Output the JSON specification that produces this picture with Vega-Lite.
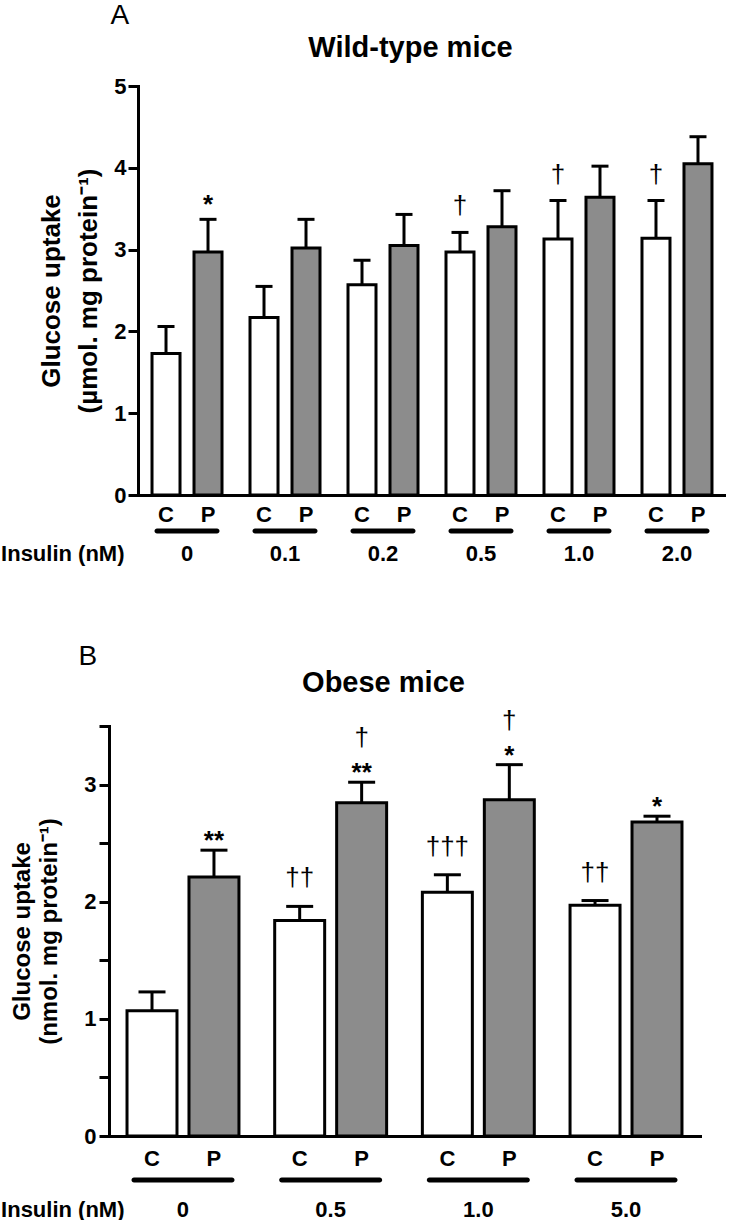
{
  "$schema": "https://vega.github.io/schema/vega-lite/v6.json",
  "padding": {"top": 2, "left": 0, "right": 0, "bottom": 0},
  "background": "white",
  "spacing": 78,
  "config": {
    "view": {"stroke": null},
    "font": "Liberation Sans",
    "axis": {"domainColor": "black", "domainWidth": 3, "domainCap": "square", "tickColor": "black", "tickWidth": 3, "labelColor": "black", "titleColor": "black", "grid": false, "labelFont": "Liberation Sans", "labelFontWeight": "bold", "labelFontSize": 22, "titleFont": "Liberation Sans", "titleFontWeight": "bold"},
    "title": {"color": "black", "font": "Liberation Sans"}
  },
  "resolve": {"scale": {"x": "independent", "y": "independent", "xOffset": "independent"}},
  "datasets": {
    "wild": [
      {"dose": "0", "trt": "C", "mean": 1.73, "upper": 2.06, "star": "", "dagger": ""},
      {"dose": "0", "trt": "P", "mean": 2.97, "upper": 3.37, "star": "*", "dagger": ""},
      {"dose": "0.1", "trt": "C", "mean": 2.17, "upper": 2.55, "star": "", "dagger": ""},
      {"dose": "0.1", "trt": "P", "mean": 3.02, "upper": 3.37, "star": "", "dagger": ""},
      {"dose": "0.2", "trt": "C", "mean": 2.57, "upper": 2.87, "star": "", "dagger": ""},
      {"dose": "0.2", "trt": "P", "mean": 3.05, "upper": 3.43, "star": "", "dagger": ""},
      {"dose": "0.5", "trt": "C", "mean": 2.97, "upper": 3.21, "star": "", "dagger": "†"},
      {"dose": "0.5", "trt": "P", "mean": 3.28, "upper": 3.72, "star": "", "dagger": ""},
      {"dose": "1.0", "trt": "C", "mean": 3.13, "upper": 3.6, "star": "", "dagger": "†"},
      {"dose": "1.0", "trt": "P", "mean": 3.64, "upper": 4.02, "star": "", "dagger": ""},
      {"dose": "2.0", "trt": "C", "mean": 3.14, "upper": 3.6, "star": "", "dagger": "†"},
      {"dose": "2.0", "trt": "P", "mean": 4.05, "upper": 4.38, "star": "", "dagger": ""}
    ],
    "obese": [
      {"dose": "0", "trt": "C", "mean": 1.07, "upper": 1.23, "star": "", "dagger": ""},
      {"dose": "0", "trt": "P", "mean": 2.21, "upper": 2.44, "star": "**", "dagger": ""},
      {"dose": "0.5", "trt": "C", "mean": 1.84, "upper": 1.96, "star": "", "dagger": "††"},
      {"dose": "0.5", "trt": "P", "mean": 2.845, "upper": 3.02, "star": "**", "dagger": "†"},
      {"dose": "1.0", "trt": "C", "mean": 2.08, "upper": 2.23, "star": "", "dagger": "†††"},
      {"dose": "1.0", "trt": "P", "mean": 2.87, "upper": 3.17, "star": "*", "dagger": "†"},
      {"dose": "5.0", "trt": "C", "mean": 1.97, "upper": 2.01, "star": "", "dagger": "††"},
      {"dose": "5.0", "trt": "P", "mean": 2.68, "upper": 2.73, "star": "*", "dagger": ""}
    ]
  },
  "vconcat": [
    {
      "title": {"text": "A", "anchor": "start", "fontSize": 28, "fontWeight": "normal", "dx": 110, "offset": 4, "frame": "bounds"},
      "vconcat": [
        {
          "title": {"text": "Wild-type mice", "fontSize": 29, "fontWeight": "bold", "anchor": "middle", "dx": -7, "offset": 12},
          "width": 617,
          "height": 409,
          "data": {"name": "wild"},
          "encoding": {
            "x": {"field": "dose", "type": "nominal", "sort": null,
              "scale": {"range": [29, 617], "paddingInner": 0.2857, "paddingOuter": 0.143},
              "axis": {"title": "Insulin (nM)", "titleFontSize": 22, "titleX": 15, "titleY": 65, "titleAlign": "right", "titleBaseline": "alphabetic", "titleAngle": 0, "ticks": false, "labelPadding": 48, "labelAngle": 0}}
          },
          "layer": [
            {
              "mark": {"type": "bar", "stroke": "black", "strokeWidth": 3},
              "encoding": {
                "xOffset": {"field": "trt", "type": "nominal", "scale": {"paddingInner": 0.3333, "paddingOuter": 0}},
                "y": {"field": "mean", "type": "quantitative", "scale": {"domain": [0, 5], "nice": false},
                  "axis": {"values": [0, 1, 2, 3, 4, 5], "format": "d", "offset": -29, "tickSize": 10, "labelPadding": 2, "title": ["Glucose uptake", "(µmol. mg protein⁻¹)"], "titleFontSize": 26, "titleLineHeight": 37, "titlePadding": 12}},
                "fill": {"field": "trt", "type": "nominal", "scale": {"domain": ["C", "P"], "range": ["#ffffff", "#8c8c8c"]}, "legend": null}
              }
            },
            {
              "mark": {"type": "rule", "strokeWidth": 3, "color": "black"},
              "encoding": {
                "xOffset": {"field": "trt", "type": "nominal"},
                "y": {"field": "mean", "type": "quantitative"},
                "y2": {"field": "upper"}
              }
            },
            {
              "mark": {"type": "tick", "orient": "horizontal", "size": 17, "thickness": 3, "color": "black", "opacity": 1},
              "encoding": {
                "xOffset": {"field": "trt", "type": "nominal"},
                "y": {"field": "upper", "type": "quantitative"}
              }
            },
            {
              "mark": {"type": "text", "fontSize": 26, "fontWeight": "bold", "baseline": "alphabetic", "dy": -6, "color": "black"},
              "encoding": {
                "xOffset": {"field": "trt", "type": "nominal"},
                "y": {"field": "upper", "type": "quantitative"},
                "text": {"field": "star"}
              }
            },
            {
              "mark": {"type": "text", "fontSize": 26, "fontWeight": "normal", "baseline": "alphabetic", "dy": -18, "color": "black"},
              "encoding": {
                "xOffset": {"field": "trt", "type": "nominal"},
                "y": {"field": "upper", "type": "quantitative"},
                "text": {"field": "dagger"}
              }
            },
            {
              "mark": {"type": "text", "fontSize": 22, "fontWeight": "bold", "baseline": "alphabetic", "dy": 27, "color": "black"},
              "encoding": {
                "xOffset": {"field": "trt", "type": "nominal"},
                "y": {"datum": 0},
                "text": {"field": "trt"}
              }
            },
            {
              "transform": [{"filter": "datum.trt === 'C'"}],
              "mark": {"type": "tick", "orient": "horizontal", "size": 65, "thickness": 5, "color": "black", "opacity": 1, "yOffset": 36, "cornerRadius": 2.5},
              "encoding": {
                "y": {"datum": 0}
              }
            }
          ]
        }
      ]
    },
    {
      "title": {"text": "B", "anchor": "start", "fontSize": 28, "fontWeight": "normal", "dx": 78, "offset": -2, "frame": "bounds"},
      "vconcat": [
        {
          "title": {"text": "Obese mice", "fontSize": 29, "fontWeight": "bold", "anchor": "middle", "dx": -21, "offset": 10},
          "width": 591,
          "height": 410,
          "data": {"name": "obese"},
          "encoding": {
            "x": {"field": "dose", "type": "nominal", "sort": null,
              "scale": {"paddingInner": 0.242, "paddingOuter": 0.122},
              "axis": {"title": "Insulin (nM)", "titleFontSize": 22, "titleX": 15, "titleY": 80, "titleAlign": "right", "titleBaseline": "alphabetic", "titleAngle": 0, "ticks": false, "labelPadding": 63, "labelAngle": 0}}
          },
          "layer": [
            {
              "mark": {"type": "bar", "stroke": "black", "strokeWidth": 3},
              "encoding": {
                "xOffset": {"field": "trt", "type": "nominal", "scale": {"paddingInner": 0.1935, "paddingOuter": 0}},
                "y": {"field": "mean", "type": "quantitative", "scale": {"domain": [0, 3.5], "nice": false},
                  "axis": {"values": [0, 0.5, 1, 1.5, 2, 2.5, 3, 3.5], "labelExpr": "datum.value % 1 === 0 ? format(datum.value, 'd') : ''", "tickSize": 10, "labelPadding": 3, "title": ["Glucose uptake", "(nmol. mg protein⁻¹)"], "titleFontSize": 24, "titleLineHeight": 27, "titlePadding": 22}},
                "fill": {"field": "trt", "type": "nominal", "scale": {"domain": ["C", "P"], "range": ["#ffffff", "#8c8c8c"]}, "legend": null}
              }
            },
            {
              "mark": {"type": "rule", "strokeWidth": 3, "color": "black"},
              "encoding": {
                "xOffset": {"field": "trt", "type": "nominal"},
                "y": {"field": "mean", "type": "quantitative"},
                "y2": {"field": "upper"}
              }
            },
            {
              "mark": {"type": "tick", "orient": "horizontal", "size": 27, "thickness": 3, "color": "black", "opacity": 1},
              "encoding": {
                "xOffset": {"field": "trt", "type": "nominal"},
                "y": {"field": "upper", "type": "quantitative"}
              }
            },
            {
              "mark": {"type": "text", "fontSize": 26, "fontWeight": "bold", "baseline": "alphabetic", "dy": -1, "color": "black"},
              "encoding": {
                "xOffset": {"field": "trt", "type": "nominal"},
                "y": {"field": "upper", "type": "quantitative"},
                "text": {"field": "star"}
              }
            },
            {
              "transform": [{"filter": "datum.star === ''"}],
              "mark": {"type": "text", "fontSize": 26, "fontWeight": "normal", "baseline": "alphabetic", "dy": -20, "color": "black"},
              "encoding": {
                "xOffset": {"field": "trt", "type": "nominal"},
                "y": {"field": "upper", "type": "quantitative"},
                "text": {"field": "dagger"}
              }
            },
            {
              "transform": [{"filter": "datum.star !== ''"}],
              "mark": {"type": "text", "fontSize": 26, "fontWeight": "normal", "baseline": "alphabetic", "dy": -36, "color": "black"},
              "encoding": {
                "xOffset": {"field": "trt", "type": "nominal"},
                "y": {"field": "upper", "type": "quantitative"},
                "text": {"field": "dagger"}
              }
            },
            {
              "mark": {"type": "text", "fontSize": 22, "fontWeight": "bold", "baseline": "alphabetic", "dy": 30, "color": "black"},
              "encoding": {
                "xOffset": {"field": "trt", "type": "nominal"},
                "y": {"datum": 0},
                "text": {"field": "trt"}
              }
            },
            {
              "transform": [{"filter": "datum.trt === 'C'"}],
              "mark": {"type": "tick", "orient": "horizontal", "size": 103, "thickness": 5, "color": "black", "opacity": 1, "yOffset": 44, "cornerRadius": 2.5},
              "encoding": {
                "y": {"datum": 0}
              }
            }
          ]
        }
      ]
    }
  ]
}
